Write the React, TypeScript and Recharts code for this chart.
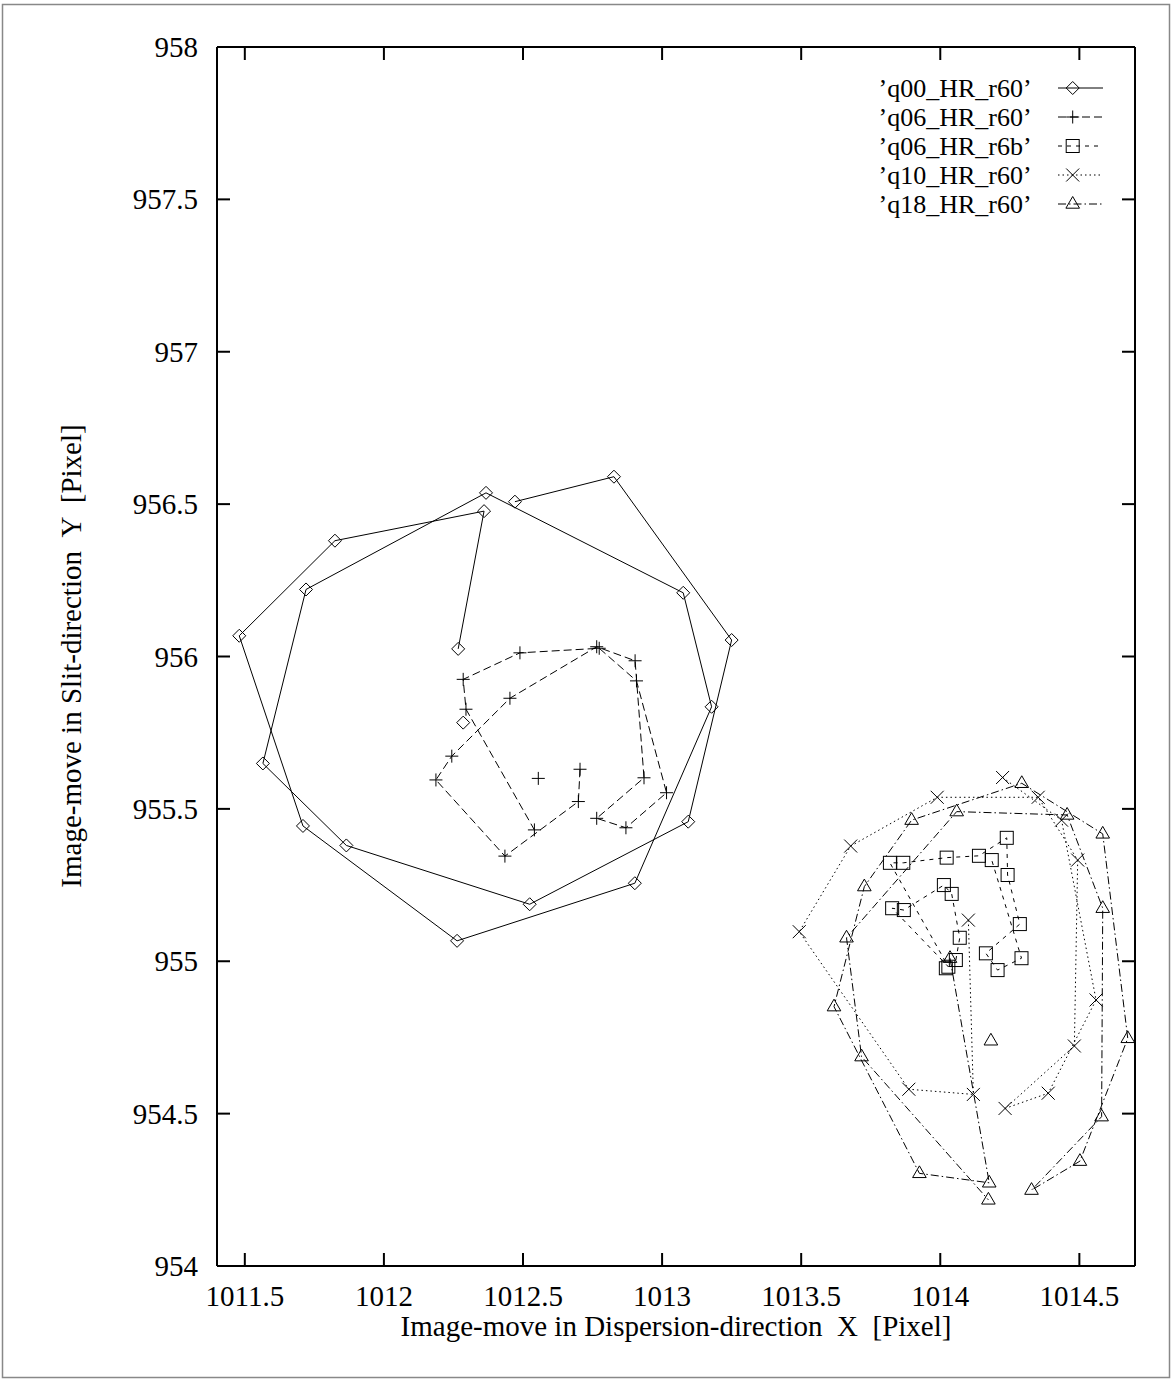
import React from 'react';
import { ScatterChart, Scatter, XAxis, YAxis } from 'recharts';

type Pt = [number, number];

const W = 1173;
const H = 1381;
const PLOT_L = 217;
const PLOT_R = 1135;
const PLOT_T = 47;
const PLOT_B = 1266;
const AX_B = 40;
const AX_T = 10;
const AX_L = 60;
const AX_R = 10;
const FONT = "'Liberation Serif', 'DejaVu Serif', 'Times New Roman', serif";
const FS = 29;
const LFS = 26;

const xTicks = [1011.5, 1012, 1012.5, 1013, 1013.5, 1014, 1014.5];
const yTicks = [954, 954.5, 955, 955.5, 956, 956.5, 957, 957.5, 958];
const xDomain: [number, number] = [1011.4, 1014.7];
const yDomain: [number, number] = [954, 958];

const xLabel = 'Image-move in Dispersion-direction  X  [Pixel]';
const yLabel = 'Image-move in Slit-direction  Y  [Pixel]';

const seriesNames = [
  '\u2019q00_HR_r60\u2019',
  '\u2019q06_HR_r60\u2019',
  '\u2019q06_HR_r6b\u2019',
  '\u2019q10_HR_r60\u2019',
  '\u2019q18_HR_r60\u2019',
];

// q00_HR_r60 (diamonds, solid)
const q00Single: Pt[] = [[1012.285, 955.783]];
const q00Path: Pt[] = [
  [1012.267, 956.025],
  [1012.36, 956.477],
  [1011.824, 956.38],
  [1011.48, 956.068],
  [1011.709, 955.444],
  [1012.263, 955.067],
  [1012.902, 955.256],
  [1013.178, 955.835],
  [1013.076, 956.209],
  [1012.367, 956.537],
  [1011.72, 956.22],
  [1011.565, 955.649],
  [1011.865, 955.38],
  [1012.524, 955.187],
  [1013.094, 955.458],
  [1013.25, 956.054],
  [1012.827, 956.59],
  [1012.471, 956.508],
];

// q06_HR_r60 (plus, dashed)
const q06Single: Pt[] = [[1012.555, 955.6]];
const q06Path: Pt[] = [
  [1012.705, 955.63],
  [1012.699, 955.524],
  [1012.435, 955.345],
  [1012.187, 955.595],
  [1012.244, 955.673],
  [1012.453, 955.863],
  [1012.765, 956.032],
  [1012.903, 955.986],
  [1012.935, 955.602],
  [1012.765, 955.469],
  [1012.87, 955.438],
  [1013.016, 955.553],
  [1012.908, 955.92],
  [1012.774, 956.027],
  [1012.489, 956.012],
  [1012.285, 955.925],
  [1012.295, 955.827],
  [1012.541, 955.431],
];

// q06_HR_r6b (squares, short dashes)
const q06bSingle: Pt[] = [[1014.02, 954.977]];
const q06bPath: Pt[] = [
  [1014.056, 955.004],
  [1014.07, 955.077],
  [1014.041, 955.221],
  [1014.013, 955.25],
  [1013.869, 955.168],
  [1013.827, 955.174],
  [1014.029, 954.982],
  [1013.819, 955.323],
  [1013.867, 955.323],
  [1014.023, 955.34],
  [1014.139, 955.346],
  [1014.239, 955.405],
  [1014.242, 955.283],
  [1014.286, 955.122],
  [1014.164, 955.026],
  [1014.206, 954.971],
  [1014.292, 955.01],
  [1014.185, 955.332],
];

// q10_HR_r60 (crosses, dotted)
const q10Single: Pt[] = [];
const q10Path: Pt[] = [
  [1014.101, 955.135],
  [1014.119, 954.563],
  [1013.887, 954.58],
  [1013.493, 955.097],
  [1013.678, 955.378],
  [1013.989, 955.538],
  [1014.352, 955.538],
  [1014.494, 955.332],
  [1014.482, 954.722],
  [1014.233, 954.517],
  [1014.388, 954.567],
  [1014.56, 954.873],
  [1014.436, 955.463],
  [1014.224, 955.603],
];

// q18_HR_r60 (triangles, dash-dot)
const q18Single: Pt[] = [[1014.182, 954.739]];
const q18Path: Pt[] = [
  [1014.035, 955.01],
  [1014.176, 954.273],
  [1013.925, 954.304],
  [1013.618, 954.851],
  [1013.727, 955.245],
  [1013.897, 955.463],
  [1014.293, 955.584],
  [1014.584, 955.418],
  [1014.674, 954.747],
  [1014.502, 954.344],
  [1014.328, 954.249],
  [1014.58, 954.49],
  [1014.584, 955.174],
  [1014.456, 955.48],
  [1014.059, 955.491],
  [1013.663, 955.077],
  [1013.717, 954.687],
  [1014.173, 954.217],
];

type Kind = 'diamond' | 'plus' | 'square' | 'cross' | 'triangle';

const series: { name: string; path: Pt[]; single: Pt[]; marker: Kind; dash?: string }[] = [
  { name: seriesNames[0], path: q00Path, single: q00Single, marker: 'diamond', dash: undefined },
  { name: seriesNames[1], path: q06Path, single: q06Single, marker: 'plus', dash: '8 4' },
  { name: seriesNames[2], path: q06bPath, single: q06bSingle, marker: 'square', dash: '4 5' },
  { name: seriesNames[3], path: q10Path, single: q10Single, marker: 'cross', dash: '1.5 3' },
  { name: seriesNames[4], path: q18Path, single: q18Single, marker: 'triangle', dash: '8 3 1.5 3' },
];

const toData = (pts: Pt[]) => pts.map(([x, y]) => ({ x, y }));

function Glyph({ kind, cx, cy }: { kind: Kind; cx: number; cy: number }) {
  const common = { fill: 'none', stroke: '#000', strokeWidth: 1 };
  const s = 6.5;
  switch (kind) {
    case 'diamond':
      return <path d={`M${cx},${cy - s} L${cx + s},${cy} L${cx},${cy + s} L${cx - s},${cy} Z`} {...common} />;
    case 'plus':
      return <path d={`M${cx - s},${cy} H${cx + s} M${cx},${cy - s} V${cy + s}`} {...common} />;
    case 'square':
      return <rect x={cx - s} y={cy - s} width={2 * s} height={2 * s} {...common} />;
    case 'cross':
      return <path d={`M${cx - s},${cy - s} L${cx + s},${cy + s} M${cx - s},${cy + s} L${cx + s},${cy - s}`} {...common} />;
    case 'triangle':
    default:
      return <path d={`M${cx},${cy - 7.5} L${cx + 6.8},${cy + 4.2} L${cx - 6.8},${cy + 4.2} Z`} {...common} />;
  }
}

const mk = (kind: Kind) => (p: any) => {
  const { cx, cy } = p;
  if (cx == null || cy == null || Number.isNaN(cx) || Number.isNaN(cy)) return <g />;
  return <Glyph kind={kind} cx={cx} cy={cy} />;
};

const fmt = (v: number) => String(v);

const BottomTick = (props: any) => {
  const { x, payload } = props;
  return (
    <g>
      <line x1={x} y1={PLOT_B} x2={x} y2={PLOT_B - 13} stroke="#000" strokeWidth={2} />
      <text x={x} y={1306} textAnchor="middle" fontFamily={FONT} fontSize={FS} fill="#000">
        {fmt(payload.value)}
      </text>
    </g>
  );
};

const TopTick = (props: any) => {
  const { x } = props;
  return <line x1={x} y1={PLOT_T} x2={x} y2={PLOT_T + 13} stroke="#000" strokeWidth={2} />;
};

const LeftTick = (props: any) => {
  const { y, payload } = props;
  return (
    <g>
      <line x1={PLOT_L} y1={y} x2={PLOT_L + 13} y2={y} stroke="#000" strokeWidth={2} />
      <text x={198} y={y} textAnchor="end" dominantBaseline="central" fontFamily={FONT} fontSize={FS} fill="#000">
        {fmt(payload.value)}
      </text>
    </g>
  );
};

const RightTick = (props: any) => {
  const { y } = props;
  return <line x1={PLOT_R} y1={y} x2={PLOT_R - 13} y2={y} stroke="#000" strokeWidth={2} />;
};

const legendRows = [88, 117, 146, 175, 204];

export default function App() {
  return (
    <div style={{ position: 'absolute', left: 0, top: 0, width: W, height: H, background: '#fff' }}>
      <ScatterChart
        width={W}
        height={H}
        margin={{
          top: PLOT_T - AX_T,
          right: W - PLOT_R - AX_R,
          bottom: H - PLOT_B - AX_B,
          left: PLOT_L - AX_L,
        }}
      >
        <XAxis
          xAxisId="b"
          dataKey="x"
          type="number"
          domain={xDomain}
          allowDataOverflow
          ticks={xTicks}
          interval={0}
          height={AX_B}
          tickLine={false}
          tick={<BottomTick />}
          axisLine={{ stroke: '#000', strokeWidth: 2 }}
        />
        <XAxis
          xAxisId="t"
          orientation="top"
          dataKey="x"
          type="number"
          domain={xDomain}
          allowDataOverflow
          ticks={xTicks}
          interval={0}
          height={AX_T}
          tickLine={false}
          tick={<TopTick />}
          axisLine={{ stroke: '#000', strokeWidth: 2 }}
        />
        <YAxis
          yAxisId="l"
          dataKey="y"
          type="number"
          domain={yDomain}
          allowDataOverflow
          ticks={yTicks}
          interval={0}
          width={AX_L}
          tickLine={false}
          tick={<LeftTick />}
          axisLine={{ stroke: '#000', strokeWidth: 2 }}
        />
        <YAxis
          yAxisId="r"
          orientation="right"
          dataKey="y"
          type="number"
          domain={yDomain}
          allowDataOverflow
          ticks={yTicks}
          interval={0}
          width={AX_R}
          tickLine={false}
          tick={<RightTick />}
          axisLine={{ stroke: '#000', strokeWidth: 2 }}
        />
        {series.map((s) => (
          <Scatter
            key={s.name}
            name={s.name}
            xAxisId="b"
            yAxisId="l"
            data={toData(s.path)}
            fill="none"
            line={{ stroke: '#000', strokeWidth: 1, strokeDasharray: s.dash, fill: 'none' }}
            lineType="joint"
            shape={mk(s.marker)}
            isAnimationActive={false}
          />
        ))}
        {series
          .filter((s) => s.single.length > 0)
          .map((s) => (
            <Scatter
              key={s.name + '-single'}
              name={s.name + ' (start)'}
              xAxisId="b"
              yAxisId="l"
              data={toData(s.single)}
              fill="none"
              shape={mk(s.marker)}
              isAnimationActive={false}
            />
          ))}
      </ScatterChart>
      <svg
        width={W}
        height={H}
        style={{ position: 'absolute', left: 0, top: 0, pointerEvents: 'none' }}
      >
        <rect x={2.5} y={4.5} width={1167} height={1373} fill="none" stroke="#888" strokeWidth={1.5} />
        <text
          x={676}
          y={1336}
          textAnchor="middle"
          fontFamily={FONT}
          fontSize={FS}
          fill="#000"
          style={{ whiteSpace: 'pre' }}
        >
          {xLabel}
        </text>
        <text
          x={71}
          y={656}
          transform="rotate(-90 71 656)"
          textAnchor="middle"
          dominantBaseline="central"
          fontFamily={FONT}
          fontSize={FS}
          fill="#000"
          style={{ whiteSpace: 'pre' }}
        >
          {yLabel}
        </text>
        {series.map((s, i) => (
          <g key={s.name}>
            <text
              x={1031.7}
              y={legendRows[i]}
              textAnchor="end"
              dominantBaseline="central"
              fontFamily={FONT}
              fontSize={LFS}
              fill="#000"
            >
              {s.name}
            </text>
            <line
              x1={1058}
              y1={legendRows[i]}
              x2={1103}
              y2={legendRows[i]}
              stroke="#000"
              strokeWidth={1}
              strokeDasharray={s.dash}
            />
            <Glyph kind={s.marker} cx={1072.7} cy={legendRows[i]} />
          </g>
        ))}
      </svg>
    </div>
  );
}
